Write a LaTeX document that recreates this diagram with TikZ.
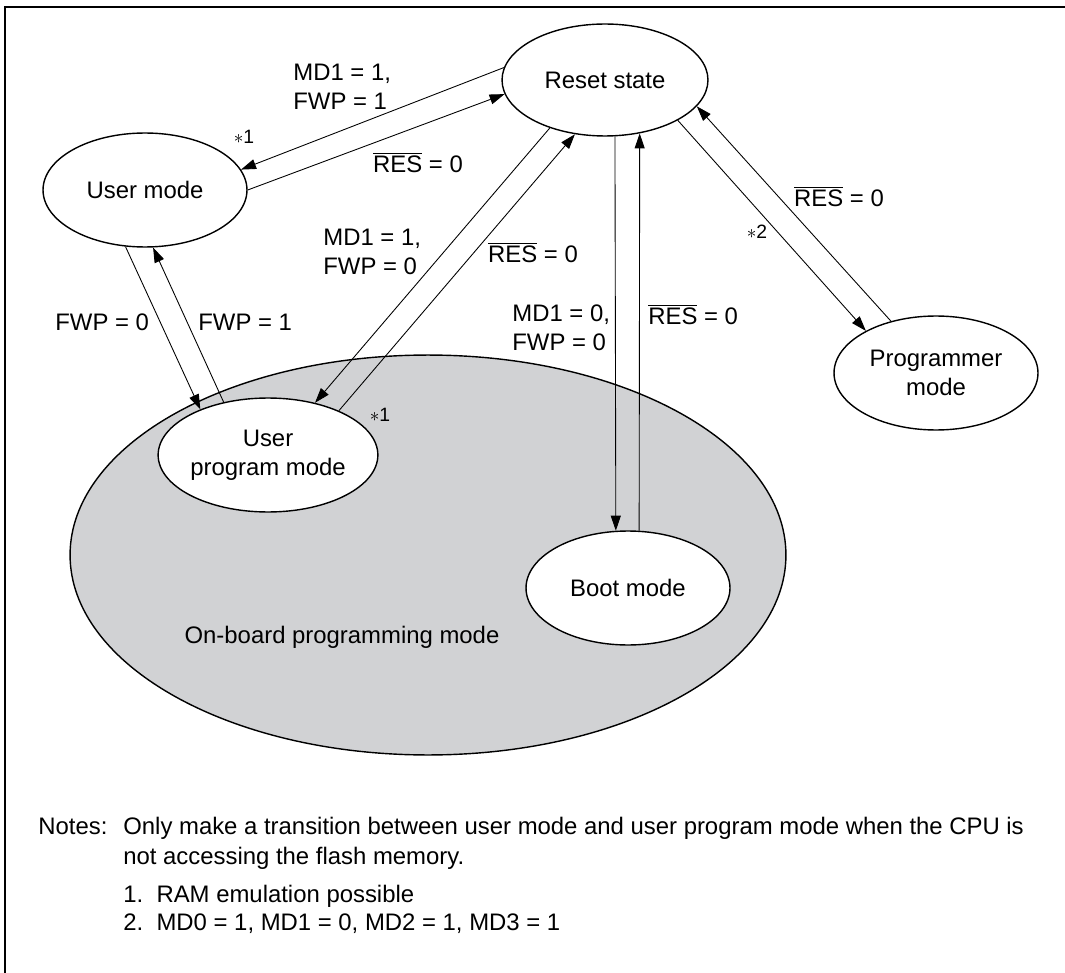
\documentclass[tikz,border=0pt]{standalone}
\usepackage{fontspec}
\setmainfont{Liberation Sans}
\usetikzlibrary{shapes.geometric, arrows.meta}
\definecolor{obgray}{HTML}{D1D2D4}
\newcommand{\resbar}{$\overline{\mbox{RES}}$}
\tikzset{
  state/.style={ellipse, draw, line width=0.8pt, fill=white, inner sep=0pt,
    align=center, minimum width=4.08cm, minimum height=2.28cm},
  onboardbg/.style={ellipse, draw, line width=0.8pt, fill=obgray, inner sep=0pt,
    minimum width=14.32cm, minimum height=8cm},
  cond/.style={align=left, inner sep=0pt},
  starnote/.style={inner sep=0pt, font=\fontsize{11}{12}\selectfont},
  note/.style={anchor=base west, inner sep=0pt},
  ar/.style={-{Triangle[length=0.3cm, width=0.2cm]}, line width=0.5pt},
}

\begin{document}
\begin{tikzpicture}[x=0.02cm, y=-0.02cm, font=\fontsize{13.6}{16.5}\selectfont]
  \useasboundingbox (0,0) rectangle (1065,973);

  % --- frame ---
  \draw[line width=1.6pt] (5,973) -- (5,7) -- (1065,7);

  % --- on-board programming region ---
  \node[onboardbg] (onboard) at (428,555) {};
  \node (onboardtxt) at (342,637) {On-board programming mode};

  % --- states ---
  \node[state, minimum width=4.12cm, minimum height=2.24cm] (reset) at (605,80) {Reset state};
  \node[state] (user)     at (145,190) {User mode};
  \node[state] (userprog) at (268,455) {User\\program mode};
  \node[state] (boot)     at (628,588) {Boot mode};
  \node[state] (progr)    at (936,373) {Programmer\\mode};

  % --- transitions ---
  \draw[ar] (reset.173) -- (user.12);
  \draw[ar] (user.east) -- (reset.188);
  \draw[ar] (user.251) -- (userprog.146);
  \draw[ar] (userprog.130) -- (user.278);
  \draw[ar] (reset.221) -- (userprog.48);
  \draw[ar] (userprog.32) -- (reset.241);
  \draw[ar] (reset.280) -- (boot.102);
  \draw[ar] (boot.79) -- (reset.303);
  \draw[ar] (reset.331) -- (progr.149);
  \draw[ar] (progr.131) -- (reset.344);

  % --- conditions ---
  \node[cond, anchor=west] (c1) at (293,87) {MD1 = 1,\\FWP = 1};
  \node (c2) at (418,163) {\resbar{} = 0};
  \node[starnote] (s1) at (244,137) {$\ast$1};
  \node[cond, anchor=west] (c3) at (323,252) {MD1 = 1,\\FWP = 0};
  \node (c4) at (533,253) {\resbar{} = 0};
  \node[cond, anchor=west] (c5) at (55,322) {FWP = 0};
  \node[cond, anchor=west] (c6) at (198,322) {FWP = 1};
  \node[starnote] (s2) at (380,415) {$\ast$1};
  \node[cond, anchor=west] (c7) at (512,328) {MD1 = 0,\\FWP = 0};
  \node[cond, anchor=west] (c8) at (648,315) {\resbar{} = 0};
  \node (c9) at (839,197) {\resbar{} = 0};
  \node[starnote] (s3) at (757,232) {$\ast$2};

  % --- notes ---
  \node[note] (notes) at (38,834) {Notes:};
  \node[note] (n1) at (123,834) {Only make a transition between user mode and user program mode when the CPU is};
  \node[note] (n2) at (123,864) {not accessing the flash memory.};
  \node[note] (n3) at (123,902) {1.\ \ RAM emulation possible};
  \node[note] (n4) at (123,930) {2.\ \ MD0 = 1, MD1 = 0, MD2 = 1, MD3 = 1};
\end{tikzpicture}
\end{document}
